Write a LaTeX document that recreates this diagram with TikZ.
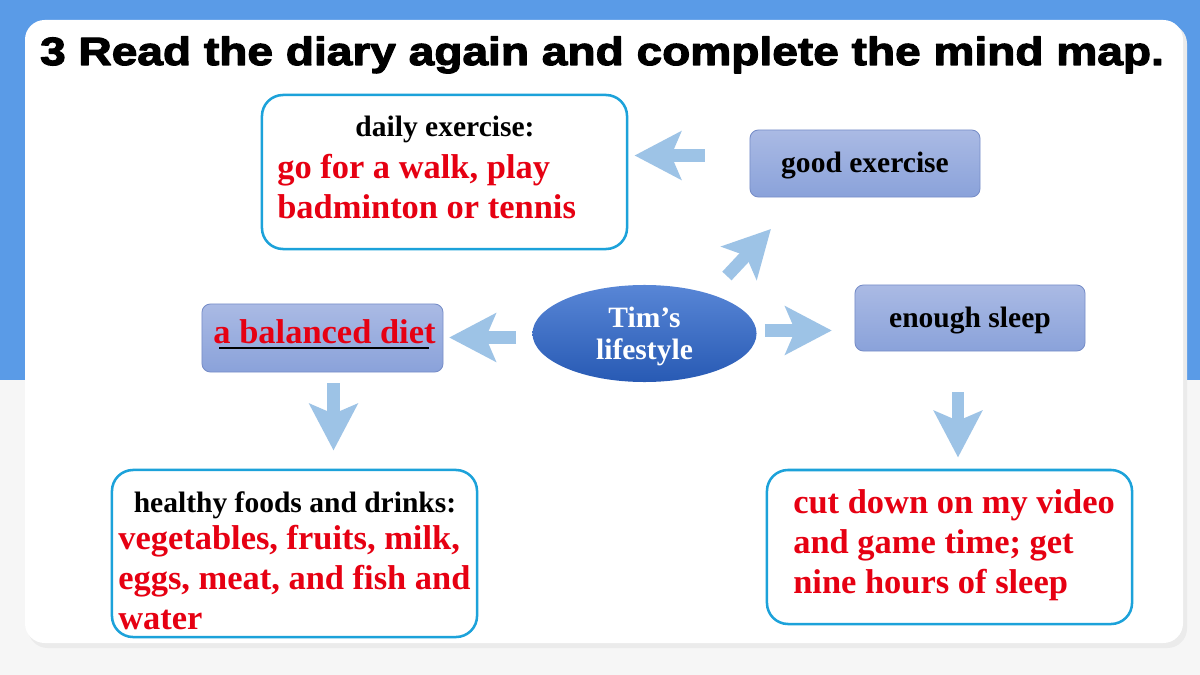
\documentclass[tikz,border=0pt]{standalone}
\usepackage{fontspec}
\setmainfont{Liberation Serif}
\newfontfamily\titlefont[FakeStretch=1.17,BoldFeatures={FakeBold=3}]{Liberation Sans}
\usetikzlibrary{arrows.meta,shapes.geometric}
\definecolor{bandblue}{RGB}{90,155,231}
\definecolor{pagegray}{RGB}{246,246,246}
\definecolor{cardedge}{RGB}{28,162,218}
\definecolor{topictop}{RGB}{170,186,228}
\definecolor{topicbot}{RGB}{138,162,218}
\definecolor{topicedge}{RGB}{120,142,200}
\definecolor{timtop}{RGB}{88,134,214}
\definecolor{timbot}{RGB}{40,90,180}
\definecolor{flowblue}{RGB}{157,195,230}
\definecolor{answerred}{RGB}{230,0,18}
\begin{document}
\begin{tikzpicture}[x=0.025cm,y=-0.025cm,line join=round,
  card/.style={draw=cardedge,line width=1.8pt,rounded corners=15pt,fill=white,inner sep=0pt},
  topic/.style={draw=topicedge,line width=0.6pt,rounded corners=6pt,top color=topictop,bottom color=topicbot,inner sep=0pt,text height=15pt,text depth=1.5pt,font=\fontsize{21}{25}\selectfont\bfseries},
  hub/.style={ellipse,top color=timtop,bottom color=timbot,inner sep=0pt,minimum width=5.6cm,minimum height=2.425cm},
  hublabel/.style={inner sep=0pt,text=white,align=center,font=\fontsize{21}{23}\selectfont\bfseries},
  head/.style={inner sep=0pt,font=\fontsize{21}{25}\selectfont\bfseries},
  answer/.style={inner sep=0pt,text=answerred,align=left,font=\fontsize{24.5}{28.5}\selectfont\bfseries},
  flow/.style={draw=flowblue,line width=9pt,line cap=butt,-{Stealth[length=33pt,width=34pt,inset=7pt]}}]
\useasboundingbox (0,0) rectangle (1200,675);
\fill[pagegray] (0,0) rectangle (1200,675);
\fill[bandblue] (0,0) rectangle (1200,380);
\fill[black!8,rounded corners=14pt] (28,24) rectangle (1187,648);
\fill[white,rounded corners=14pt] (25,20) rectangle (1183,643);
\node[anchor=base] (title) at (602,65) {\titlefont\bfseries\fontsize{28}{30}\selectfont 3 Read the diary again and complete the mind map.};
\node[card,minimum width=9.125cm,minimum height=3.85cm] (daily) at (444.5,172) {};
\node[head,anchor=base] (dailyhead) at (445,137) {daily exercise:};
\node[answer,anchor=north west] (dailyans) at (277,154) {go for a walk, play\\badminton or tennis};
\node[topic,minimum width=5.75cm,minimum height=1.675cm] (good) at (865,163.5) {good exercise};
\node[hub] (tim) at (644.5,333.5) {};
\node[hublabel] (timlbl) at (644.5,336.6) {Tim’s\\lifestyle};
\node[topic,minimum width=5.75cm,minimum height=1.65cm] (sleep) at (970,318) {enough sleep};
\node[topic,minimum width=6.025cm,minimum height=1.7cm] (diet) at (322.5,338) {};
\node[answer,anchor=base] (dietans) at (324.5,343) {a balanced diet};
\draw[line width=1.4pt] ([shift={(6,5)}]dietans.base west) -- ([shift={(-7,5)}]dietans.base east);
\node[card,minimum width=9.125cm,minimum height=4.175cm] (healthy) at (294.5,553.5) {};
\node[head,anchor=base] (healthyhead) at (295,512) {healthy foods and drinks:};
\node[answer,anchor=north west] (healthyans) at (118,525) {vegetables, fruits, milk,\\eggs, meat, and fish and\\water};
\node[card,minimum width=9.125cm,minimum height=3.85cm] (cutdown) at (949.5,547) {};
\node[answer,anchor=north west] (cutdownans) at (793,489) {cut down on my video\\and game time; get\\nine hours of sleep};
\draw[flow] (good.west) ++(-45,-8) -- ++(-70,0);
\draw[flow] (tim.north east) ++(3,-23) -- ++(44,-47);
\draw[flow] (tim.west) ++(-16,4) -- ++(-67,0);
\draw[flow] (tim.east) ++(8,-3) -- ++(67,0);
\draw[flow] (diet.south) ++(11,11) -- ++(0,67);
\draw[flow] (sleep.south) ++(-12,41) -- ++(0,65);
\end{tikzpicture}
\end{document}
